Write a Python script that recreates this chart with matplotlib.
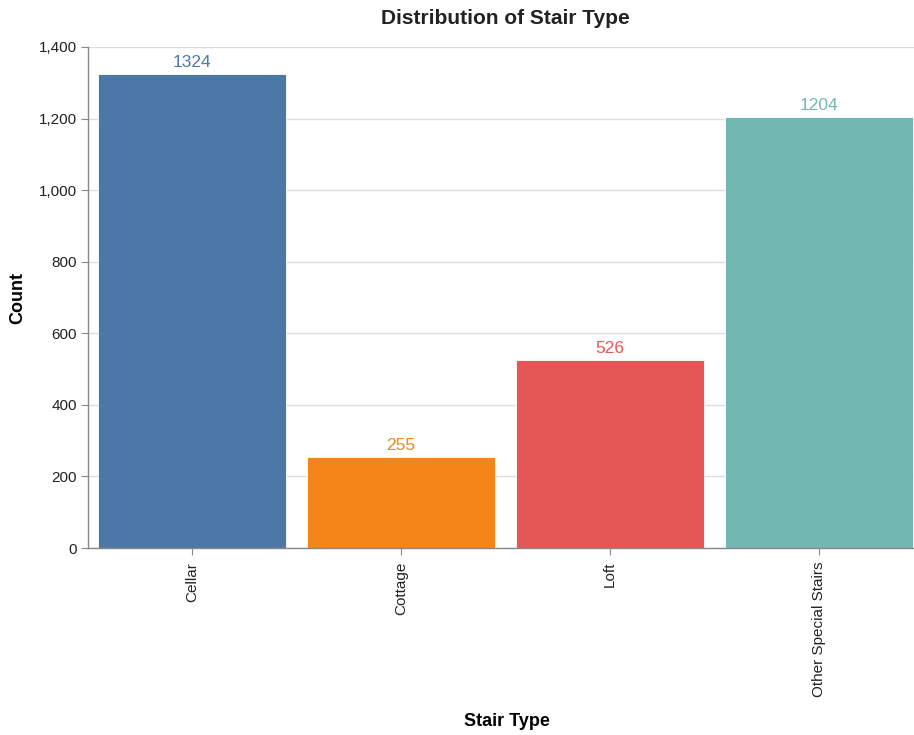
import matplotlib
matplotlib.use("Agg")
import matplotlib.pyplot as plt
from matplotlib.ticker import FuncFormatter

plt.rcParams["font.family"] = ["Liberation Sans", "DejaVu Sans"]

stair_types = ["Cellar", "Cottage", "Loft", "Other Special Stairs"]
counts = [1324, 255, 526, 1204]
colors = ["#4c78a8", "#f58518", "#e45756", "#72b7b2"]

fig = plt.figure(figsize=(9.14, 7.35), dpi=100)
ax = fig.add_axes([88 / 914, 1 - 548 / 735, 826 / 914, 501 / 735])

x = list(range(len(stair_types)))
ax.bar(x, counts, width=0.9, color=colors, edgecolor="white", linewidth=0.6, zorder=2)
for xi, c, col in zip(x, counts, colors):
    ax.annotate(str(c), (xi, c), xytext=(0, 3), textcoords="offset points",
                ha="center", va="bottom", color=col, fontsize=12.5)

ax.set_xlim(-0.498, 3.454)
ax.set_ylim(0, 1400)
ax.set_yticks(range(0, 1401, 200))
ax.yaxis.set_major_formatter(FuncFormatter(lambda v, p: f"{int(v):,}"))
ax.set_xticks(x)
ax.set_xticklabels(stair_types, rotation=90, fontsize=11, color="#222222")
ax.tick_params(axis="y", labelsize=11, labelcolor="#222222", length=5, color="#888888", pad=3)
ax.tick_params(axis="x", length=5, color="#888888", pad=5)

ax.grid(axis="y", color="#dddddd", linewidth=1, zorder=0)
ax.set_axisbelow(True)
for side in ["top", "right"]:
    ax.spines[side].set_visible(False)
for side in ["left", "bottom"]:
    ax.spines[side].set_color("#888888")
    ax.spines[side].set_linewidth(1)

ax.set_ylabel("Count", fontsize=13, fontweight="bold")
ax.set_xlabel("Stair Type", fontsize=13, fontweight="bold")
ax.xaxis.set_label_coords((507 - 88) / 826, (548 - 722) / 501)
ax.yaxis.set_label_coords((18 - 88) / 826, 0.5)
ax.yaxis.label.set_va("center")
ax.xaxis.label.set_va("center")
fig.text(505 / 914, 1 - 18 / 735, "Distribution of Stair Type", ha="center", va="center",
         fontsize=15, fontweight="bold", color="#222222")

fig.savefig("out.png", dpi=100)
